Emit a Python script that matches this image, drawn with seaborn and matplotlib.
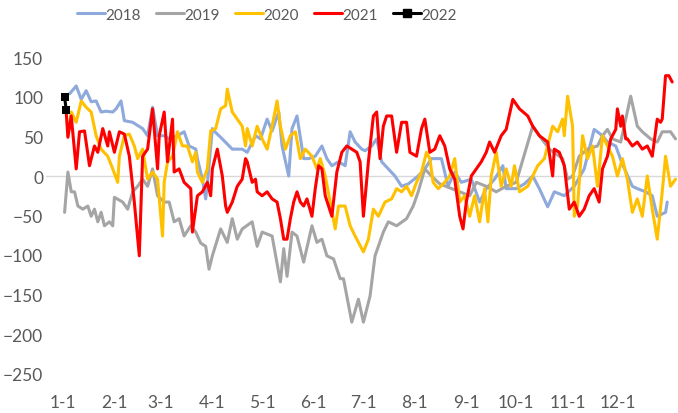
import pandas as pd
import seaborn as sns
import matplotlib.pyplot as plt
from matplotlib.lines import Line2D

# day of year (0 = 1-1) and values
days_2018 = [4, 8, 11, 14, 17, 20, 23, 26, 30, 32, 35, 37, 42, 48, 51, 54, 57, 61, 64, 69,
             73, 76, 80, 81, 84, 86, 87, 90, 92, 95, 102, 108, 111, 116, 119, 123, 126, 130, 132, 136,
             138, 141, 145, 148, 152, 156, 159, 162, 166, 170, 173, 176, 180, 182, 186, 189, 192, 196, 200, 204,
             208, 214, 218, 222, 228, 232, 236, 240, 246, 251, 255, 260, 265, 267, 273, 278, 283, 287, 292, 296,
             302, 308, 314, 320, 325, 328, 333, 337, 343, 346, 351, 355, 358, 363, 364]
vals_2018 = [104, 114, 97, 108, 94, 95, 81, 82, 81, 85, 95, 70, 68, 60, 51, 87, 51, 51, 47, 51,
             56, 38, 34, 22, -4, -29, -10, 60, 55, 49, 34, 34, 30, 51, 47, 72, 57, 81, 38, 0,
             60, 76, 22, 22, 25, 38, 22, 13, 18, 13, 56, 43, 34, 32, 38, 47, 18, 9, 0, -13,
             -10, 0, 9, 22, 22, -13, 5, -8, -4, -33, -16, -4, 13, -16, -16, -10, 0, -16, -39, -20,
             -25, -13, 9, 59, 51, 43, 38, 15, -13, -16, -20, -25, -51, -46, -33]

days_2019 = [1, 3, 5, 7, 9, 12, 15, 17, 19, 21, 23, 25, 28, 30, 31, 36, 39, 42, 45, 48,
             51, 54, 57, 61, 64, 67, 70, 73, 77, 80, 83, 86, 88, 90, 95, 99, 102, 105, 108, 114,
             117, 120, 126, 131, 133, 135, 138, 141, 145, 150, 153, 156, 159, 163, 167, 169, 174, 178, 181, 185,
             188, 193, 196, 201, 207, 211, 214, 218, 222, 227, 233, 239, 245, 249, 255, 261, 267, 273, 283, 287,
             293, 301, 304, 307, 311, 316, 322, 325, 328, 331, 336, 342, 346, 349, 354, 358, 361, 366, 369]
vals_2019 = [-46, 5, -20, -20, -38, -42, -38, -51, -42, -58, -46, -63, -58, -63, -27, -33, -42, -20, -13, -4,
             -13, 9, -25, -33, -33, -58, -54, -76, -63, -71, -85, -89, -118, -101, -67, -84, -54, -80, -67, -58,
             -89, -71, -76, -134, -92, -127, -71, -76, -109, -63, -84, -80, -101, -105, -130, -130, -185, -156, -185, -152,
             -101, -71, -58, -63, -54, -38, -20, 9, 0, -10, -15, -20, -25, -8, -13, -20, -13, -8, 63, 51,
             34, 22, -4, 0, 25, 34, 38, 51, 59, 47, 43, 101, 63, 56, 47, 43, 56, 56, 47]

days_2020 = [3, 5, 8, 11, 14, 17, 20, 23, 27, 30, 33, 34, 37, 40, 43, 45, 48, 51, 54, 57,
             60, 61, 63, 66, 69, 72, 75, 78, 80, 81, 84, 87, 89, 92, 95, 98, 99, 102, 105, 108,
             110, 111, 114, 117, 120, 123, 126, 129, 131, 134, 137, 140, 143, 146, 150, 153, 155, 158, 161, 164,
             166, 170, 173, 176, 181, 184, 187, 190, 194, 198, 201, 204, 207, 210, 213, 216, 219, 221, 223, 226,
             230, 233, 236, 239, 242, 245, 248, 251, 254, 256, 258, 261, 264, 267, 270, 272, 275, 280, 286, 290,
             295, 298, 301, 302, 304, 307, 308, 310, 313, 316, 319, 322, 325, 328, 331, 334, 337, 340, 343, 346,
             349, 352, 355, 358, 361, 363, 366, 369]
vals_2020 = [51, 81, 68, 95, 87, 81, 51, 34, 25, 9, -8, 25, 51, 53, 38, 22, 34, -4, 5, -4,
             -76, -8, 18, 25, 56, 38, 38, 18, 30, 5, -8, 9, 57, 60, 85, 89, 110, 81, 72, 63,
             38, 60, 38, 63, 47, 34, 63, 95, 63, 34, 51, 56, 22, 34, 25, 9, 22, 0, -33, -67,
             -38, -38, -63, -76, -96, -80, -42, -51, -33, -29, -16, -20, -13, -25, -8, 5, 30, 22, -8, -16,
             -8, 0, 22, -33, -25, -51, -25, -58, -16, -58, 0, 30, -13, 9, -13, 13, -20, -13, 13, 22,
             63, 56, 72, 51, 101, 63, -51, -38, 51, 22, 38, -13, 51, 38, 25, 0, 22, -4, -46, -29,
             -51, 0, -42, -80, -20, 25, -13, -4]

days_2021 = [2, 3, 5, 8, 10, 13, 16, 19, 21, 24, 27, 28, 31, 34, 37, 40, 43, 46, 48, 51,
             54, 57, 58, 61, 63, 66, 67, 70, 73, 77, 78, 81, 84, 87, 89, 90, 93, 96, 98, 99,
             102, 105, 108, 110, 111, 114, 116, 117, 120, 123, 126, 129, 131, 133, 135, 137, 139, 141, 143, 145,
             147, 150, 152, 154, 156, 158, 162, 165, 168, 171, 174, 177, 179, 181, 184, 187, 189, 191, 193, 195,
             198, 201, 204, 207, 209, 213, 216, 218, 221, 224, 227, 230, 233, 236, 239, 241, 243, 246, 249, 252,
             255, 257, 260, 264, 267, 271, 275, 280, 283, 287, 292, 295, 296, 299, 302, 305, 308, 311, 314, 317,
             320, 323, 325, 328, 330, 333, 334, 336, 337, 339, 340, 343, 346, 349, 352, 355, 358, 360, 361, 363,
             365, 367]
vals_2021 = [80, 49, 76, 9, 56, 57, 13, 38, 30, 60, 38, 56, 30, 56, 53, 25, -33, -101, 25, 34,
             85, 9, 51, 81, 18, 72, 5, 9, -8, -16, -71, -25, -20, -8, -25, 9, 34, 0, -38, -46,
             -33, -13, -4, 22, 18, -8, -4, -20, -25, -20, -29, -33, -54, -80, -80, -54, -33, -20, -33, -38,
             -29, -51, -16, 13, 9, -25, -51, 5, 30, 38, 34, 30, 18, -51, 18, 76, 81, 22, 63, 76,
             76, 30, 68, 68, 30, 25, 60, 72, 30, 34, 51, 38, 9, -4, -51, -67, -33, 0, 9, 18,
             30, 43, 30, 51, 59, 97, 85, 76, 63, 51, 43, 0, 34, 30, 13, -42, -33, -51, -42, -25,
             -16, -33, 9, 25, 47, 59, 85, 63, 76, 47, 47, 38, 43, 34, 38, 25, 72, 68, 72, 127,
             127, 119]

days_2022 = [1, 2]
vals_2022 = [100, 83]

years = ['2018', '2019', '2020', '2021']
colors = {'2018': '#8EA9DB', '2019': '#A5A5A5', '2020': '#FFC000', '2021': '#FF0000'}

month_days = [0, 31, 59, 90, 120, 151, 181, 212, 243, 273, 304, 334]
month_labels = ['1-1', '2-1', '3-1', '4-1', '5-1', '6-1', '7-1', '8-1', '9-1', '10-1', '11-1', '12-1']

frames = []
for y, d, v in zip(years, [days_2018, days_2019, days_2020, days_2021],
                   [vals_2018, vals_2019, vals_2020, vals_2021]):
    frames.append(pd.DataFrame({'day': d, 'value': v, 'year': y}))
df = pd.concat(frames, ignore_index=True)

sns.set_style('white')
plt.rcParams['font.family'] = ['Lato', 'DejaVu Sans']

fig = plt.figure(figsize=(6.78, 4.14), dpi=100)
ax = fig.add_axes([46 / 678, 1 - 382.4 / 414, 632 / 678, 339.7 / 414])

ax.axhline(0, color='#D9D9D9', lw=1, zorder=0)
sns.lineplot(data=df, x='day', y='value', hue='year', palette=colors, lw=2.2,
             estimator=None, sort=False, legend=False, ax=ax)
sns.lineplot(x=days_2022, y=vals_2022, color='black', lw=2.2, marker='s',
             markersize=6, markeredgewidth=0, ax=ax)

ax.set_xlim(-10.2, 370.5)
ax.set_ylim(-260, 170)
ax.set_yticks(range(-250, 151, 50))
ax.set_xticks(month_days)
ax.set_xticklabels(month_labels)
ax.tick_params(axis='both', length=0, labelsize=12.5, labelcolor='#595959')
ax.tick_params(axis='y', pad=2)
ax.tick_params(axis='x', pad=9)
ax.set_xlabel('')
ax.set_ylabel('')
sns.despine(ax=ax, left=True, bottom=True)

handles = [Line2D([], [], color=colors[y], lw=2.2) for y in years]
handles.append(Line2D([], [], color='black', lw=2.2, marker='s', markersize=6))
fig.legend(handles, years + ['2022'], loc='center', bbox_to_anchor=(0.394, 0.962), ncol=5,
           frameon=False, fontsize=11, labelcolor='#595959', handlelength=1.8,
           handletextpad=0.05, columnspacing=1.0)

fig.savefig('out.png', dpi=100)
